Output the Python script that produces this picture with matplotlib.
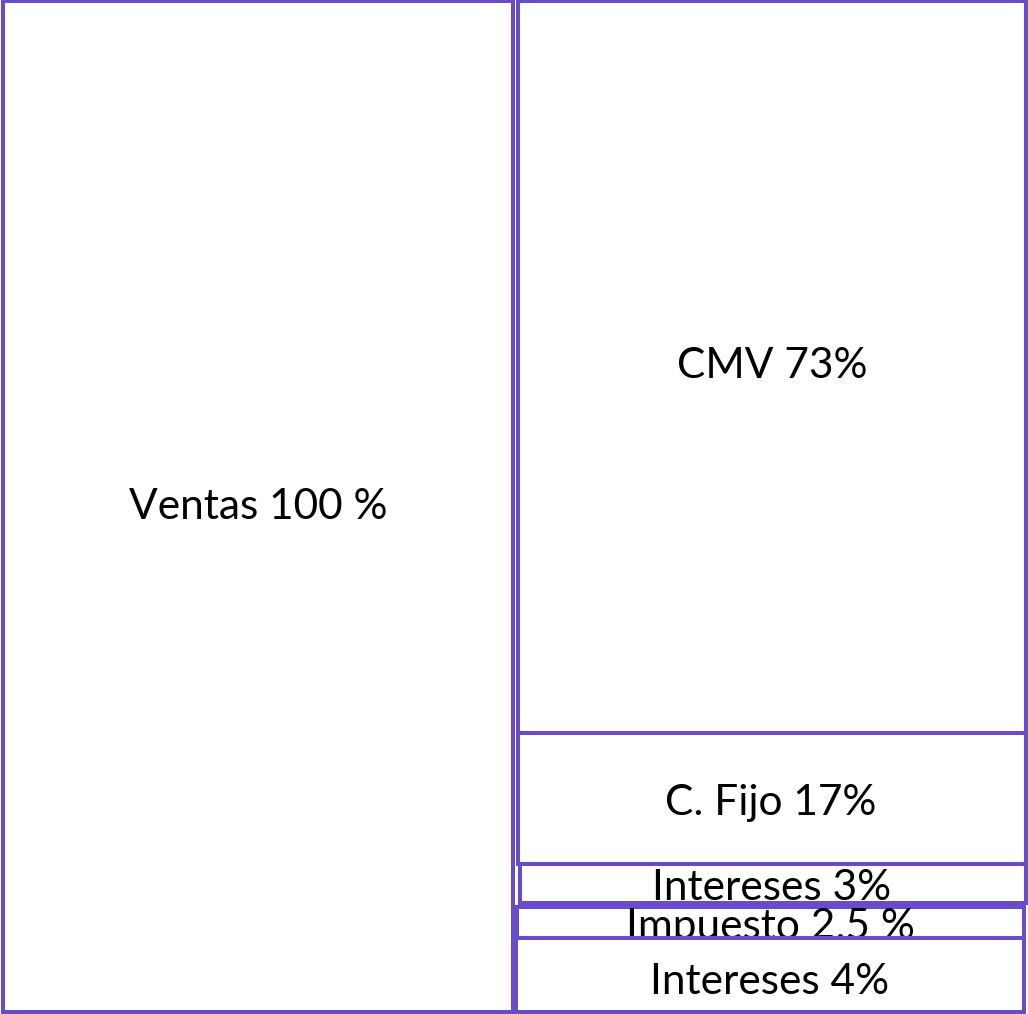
import matplotlib.pyplot as plt
from matplotlib.patches import Rectangle

plt.rcParams['font.family'] = ['Lato', 'DejaVu Sans']

# conceptos del estado de resultados (texto tal como aparece)
labels = ["Ventas 100 %", "CMV 73%", "C. Fijo 17%", "Intereses 3%", "Impuesto 2.5 %", "Intereses 4%"]

# cajas dibujadas a mano en el original (px): izquierda, derecha, arriba, abajo
box_left = [3, 518, 518, 520, 517, 516]
box_right = [513, 1025.5, 1025.5, 1025.5, 1023.5, 1023.5]
box_top = [0.5, 0.5, 732.5, 863.5, 906.5, 937.5]
box_bottom = [1012, 732.5, 863.5, 902.5, 937.5, 1012]
# posicion del texto: centro x, linea base
text_x = [258, 772, 771, 772, 770, 770]
text_base = [519, 378, 815, 900, 939, 994]

color = '#6A4BC8'

W, H = 1028, 1014
fig = plt.figure(figsize=(W / 100, H / 100), dpi=100)
ax = fig.add_axes([0, 0, 1, 1])
ax.set_xlim(0, W)
ax.set_ylim(H, 0)
ax.axis('off')

for i in range(len(labels)):
    r = Rectangle((box_left[i], box_top[i]), box_right[i] - box_left[i],
                  box_bottom[i] - box_top[i], facecolor='white',
                  edgecolor=color, linewidth=2.9, zorder=2 * i + 1)
    ax.add_patch(r)
    ax.text(text_x[i], text_base[i], labels[i], ha='center', va='baseline',
            fontsize=30.5, color='black', zorder=2 * i + 2)

fig.savefig('out.png', dpi=100)
